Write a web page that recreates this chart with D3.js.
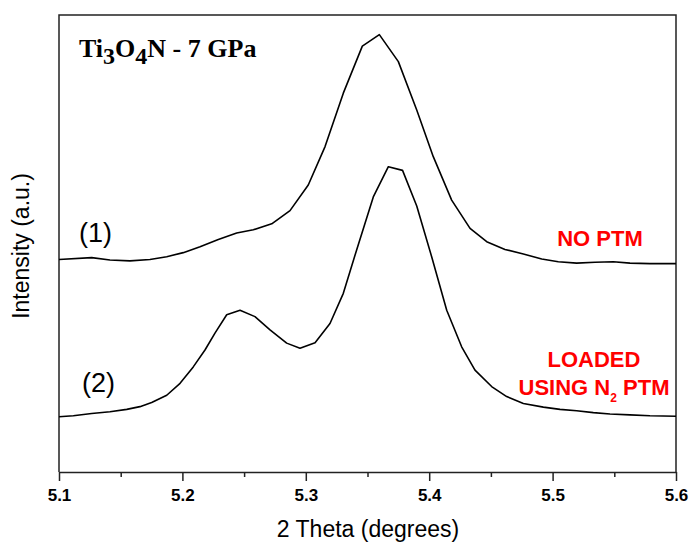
<!DOCTYPE html>
<html>
<head>
<meta charset="utf-8">
<script src="https://cdn.jsdelivr.net/npm/d3@7"></script>
<style>
  body { margin: 0; background: #fff; }
  svg { display: block; }
</style>
</head>
<body>
<div id="chart"></div>
<script>
// 2 theta positions (degrees) and intensities (a.u., offset stacked)
var theta1 = [5.100, 5.1265, 5.1413, 5.1575, 5.1737, 5.1873, 5.2007, 5.2143, 5.2291, 5.2440,
              5.2575, 5.2724, 5.2872, 5.3020, 5.3156, 5.3304, 5.3458, 5.3596, 5.3750, 5.3899,
              5.4033, 5.4182, 5.4331, 5.4466, 5.4614, 5.4763, 5.4912, 5.5046, 5.5195, 5.5344,
              5.5492, 5.5627, 5.5789, 5.600];
var noPtm = [46.5, 46.9, 46.4, 46.2, 46.5, 47.1, 48.0, 49.3, 50.9, 52.3,
             53.0, 54.3, 57.2, 62.8, 71.2, 82.9, 93.2, 95.7, 89.8, 79.2,
             69.0, 59.5, 53.3, 50.4, 48.7, 47.7, 46.6, 46.0, 45.7, 45.9,
             46.0, 45.7, 45.6, 45.6];

var theta2 = [5.100, 5.1116, 5.1265, 5.1413, 5.1549, 5.1656, 5.1751, 5.1873, 5.1981, 5.2088,
              5.2183, 5.2264, 5.2359, 5.2467, 5.2588, 5.2710, 5.2845, 5.2953, 5.3075, 5.3196,
              5.3304, 5.3412, 5.3547, 5.3669, 5.3784, 5.3899, 5.4020, 5.4142, 5.4263, 5.4371,
              5.4506, 5.4628, 5.4763, 5.4925, 5.5060, 5.5195, 5.5330, 5.5465, 5.5627, 5.5789, 5.600];
var n2Ptm = [12.1, 12.3, 12.8, 13.2, 13.7, 14.3, 15.2, 16.8, 19.4, 23.0,
             26.7, 30.4, 34.4, 35.4, 34.0, 31.1, 28.2, 27.1, 28.3, 32.5,
             39.1, 48.6, 60.2, 66.8, 66.0, 58.2, 47.1, 35.4, 27.4, 22.3,
             18.7, 16.5, 15.0, 14.2, 13.7, 13.4, 13.0, 12.7, 12.5, 12.3, 12.2];

var majorTicks = [5.1, 5.2, 5.3, 5.4, 5.5, 5.6];
var minorTicks = [5.15, 5.25, 5.35, 5.45, 5.55];

var W = 690, H = 543;
var margin = {top: 15, right: 14, bottom: 71, left: 59};
var w = W - margin.left - margin.right;
var h = H - margin.top - margin.bottom;

var svg = d3.select('#chart').append('svg')
    .attr('width', W)
    .attr('height', H);

var g = svg.append('g')
    .attr('transform', 'translate(' + margin.left + ',' + margin.top + ')');

var x = d3.scaleLinear().domain([5.1, 5.6]).range([0, w]);
var y = d3.scaleLinear().domain([0, 100]).range([h, 0]);

// frame (left, top, right)
g.append('path')
    .attr('d', 'M0,' + h + 'V0H' + w + 'V' + h)
    .attr('fill', 'none')
    .attr('stroke', '#222')
    .attr('stroke-width', 1.5);

// minor ticks
g.append('g')
    .attr('transform', 'translate(0,' + h + ')')
    .call(d3.axisBottom(x).tickValues(minorTicks).tickSize(5).tickFormat(''))
    .call(function(a){ a.select('.domain').remove(); })
    .selectAll('line').attr('stroke', '#222').attr('stroke-width', 1.5);

// major axis
var xAxis = g.append('g')
    .attr('transform', 'translate(0,' + h + ')')
    .call(d3.axisBottom(x).tickValues(majorTicks).tickSize(9).tickSizeOuter(0).tickPadding(8)
        .tickFormat(d3.format('.1f')));
xAxis.select('.domain').attr('stroke', '#222').attr('stroke-width', 1.5);
xAxis.selectAll('line').attr('stroke', '#222').attr('stroke-width', 1.5);
xAxis.selectAll('text')
    .attr('fill', '#000')
    .style('font-family', 'Arial, "Liberation Sans", sans-serif')
    .style('font-size', '17px')
    .style('font-weight', 'bold');

// curves
var line = d3.line()
    .x(function(d){ return x(d[0]); })
    .y(function(d){ return y(d[1]); });

[[theta1, noPtm], [theta2, n2Ptm]].forEach(function(s){
    g.append('path')
        .datum(d3.zip(s[0], s[1]))
        .attr('d', line)
        .attr('fill', 'none')
        .attr('stroke', '#000')
        .attr('stroke-width', 1.6)
        .attr('stroke-linejoin', 'round');
});

// axis titles
svg.append('text')
    .attr('x', 368).attr('y', 537)
    .attr('text-anchor', 'middle')
    .style('font-family', 'Arial, "Liberation Sans", sans-serif')
    .style('font-size', '23px')
    .text('2 Theta (degrees)');

svg.append('text')
    .attr('transform', 'translate(29,246) rotate(-90)')
    .attr('text-anchor', 'middle')
    .style('font-family', 'Arial, "Liberation Sans", sans-serif')
    .style('font-size', '23px')
    .text('Intensity (a.u.)');

// title
var title = svg.append('text')
    .attr('x', 79).attr('y', 57)
    .style('font-family', '"Liberation Serif", "Times New Roman", serif')
    .style('font-size', '26px')
    .style('font-weight', 'bold');
title.append('tspan').text('Ti');
title.append('tspan').attr('dy', 7).style('font-size', '24px').text('3');
title.append('tspan').attr('dy', -7).text('O');
title.append('tspan').attr('dy', 7).style('font-size', '24px').text('4');
title.append('tspan').attr('dy', -7).text('N - 7 GPa');

// curve labels
var sans = 'Arial, "Liberation Sans", sans-serif';
svg.append('text').attr('x', 79).attr('y', 242)
    .style('font-family', sans).style('font-size', '27px').text('(1)');
svg.append('text').attr('x', 82).attr('y', 392)
    .style('font-family', sans).style('font-size', '27px').text('(2)');

var red = '#ff0000';
svg.append('text').attr('x', 600).attr('y', 246)
    .attr('text-anchor', 'middle').attr('fill', red)
    .style('font-family', sans).style('font-size', '22px').style('font-weight', 'bold')
    .text('NO PTM');
svg.append('text').attr('x', 594).attr('y', 367)
    .attr('text-anchor', 'middle').attr('fill', red)
    .style('font-family', sans).style('font-size', '22px').style('font-weight', 'bold')
    .text('LOADED');
var l2 = svg.append('text').attr('x', 594).attr('y', 395)
    .attr('text-anchor', 'middle').attr('fill', red)
    .style('font-family', sans).style('font-size', '22px').style('font-weight', 'bold');
l2.append('tspan').text('USING N');
l2.append('tspan').attr('dy', 7).style('font-size', '12px').text('2');
l2.append('tspan').attr('dy', -7).text(' PTM');
</script>
</body>
</html>
